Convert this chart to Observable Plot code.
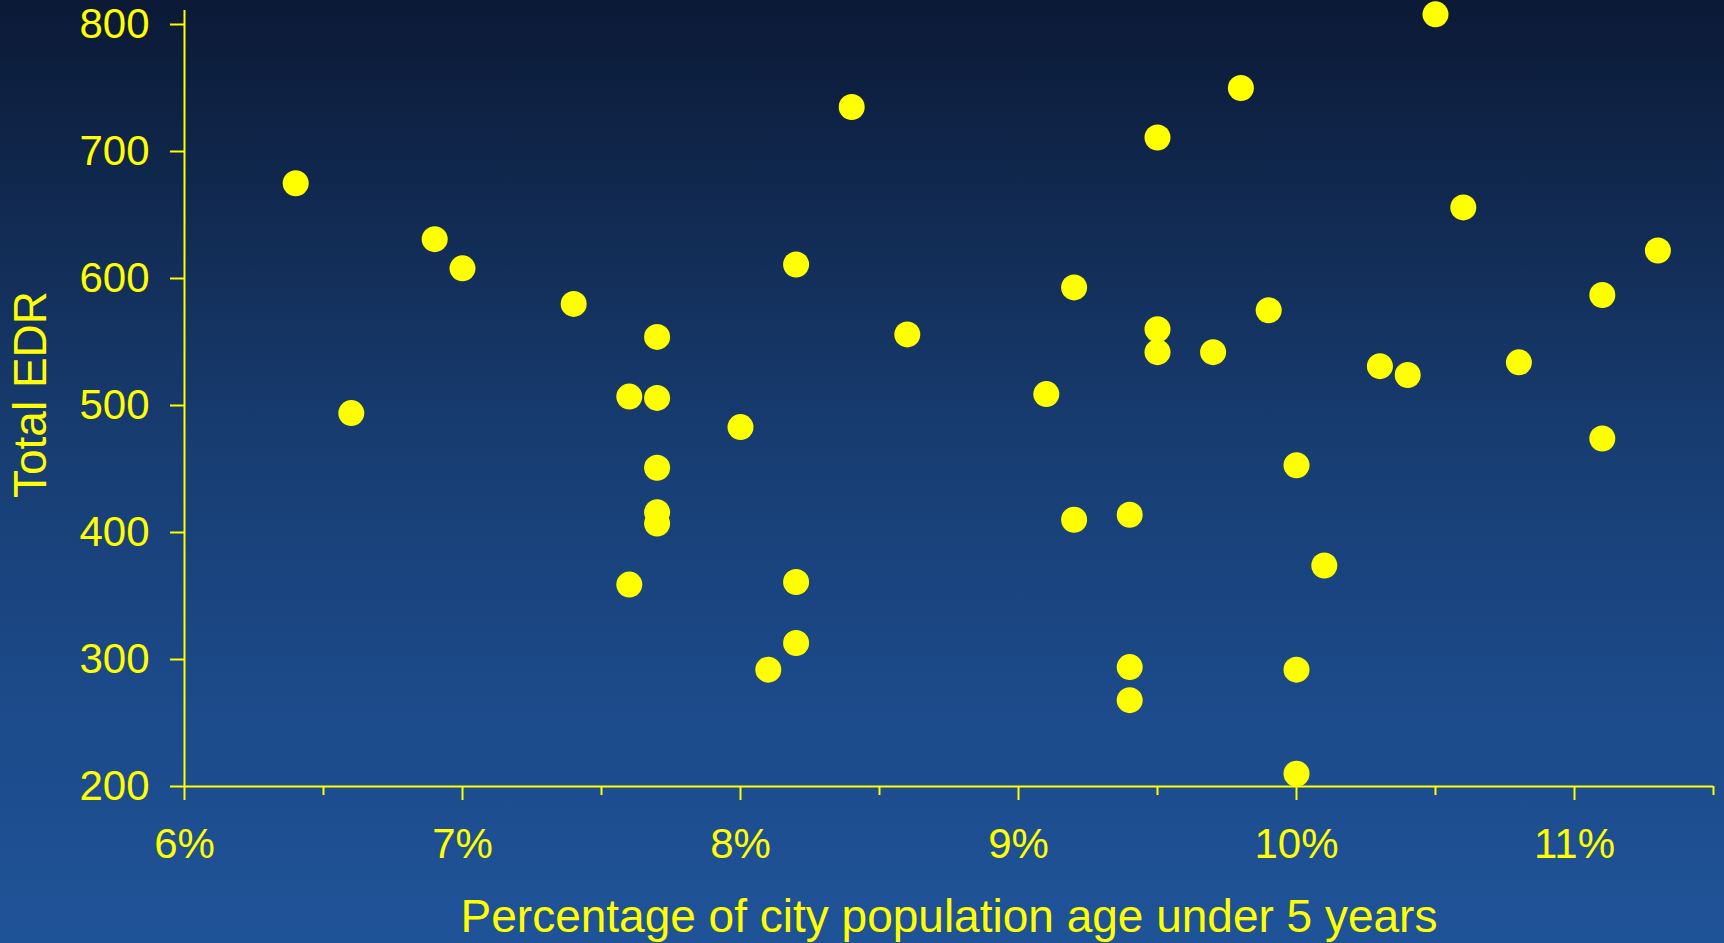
<!DOCTYPE html>
<html>
<head>
<meta charset="utf-8">
<script src="https://cdn.jsdelivr.net/npm/d3@7"></script>
<script src="https://cdn.jsdelivr.net/npm/@observablehq/plot@0.6"></script>
<style>
  html, body { margin: 0; padding: 0; background: #0c1a35; }
  #chart svg { display: block; }
</style>
</head>
<body>
<div id="chart"></div>
<script>
// Percentage of city population under 5 (in %)
const pctUnder5 = [6.4, 6.6, 6.9, 7.0, 7.4, 7.6, 7.6, 7.7, 7.7, 7.7, 7.7, 7.7, 8.0, 8.1, 8.2, 8.2, 8.2, 8.4, 8.6,
  9.1, 9.2, 9.2, 9.4, 9.4, 9.4, 9.5, 9.5, 9.5, 9.7, 9.8, 9.9, 10.0, 10.0, 10.0, 10.1, 10.3, 10.4, 10.5, 10.6, 10.8, 11.1, 11.1, 11.3];
// Total EDR
const totalEDR = [675, 494, 631, 608, 580, 507, 359, 554, 506, 451, 416, 407, 483, 292, 611, 361, 313, 735, 556,
  509, 593, 410, 414, 294, 268, 711, 560, 542, 542, 750, 575, 453, 292, 210, 374, 531, 524, 808, 656, 534, 587, 474, 622];
const xTicks = [6, 7, 8, 9, 10, 11];
const xMinorTicks = [6.5, 7.5, 8.5, 9.5, 10.5, 11.5];
const yTicks = [200, 300, 400, 500, 600, 700, 800];
const xLabel = "Percentage of city population age under 5 years";
const yLabel = "Total EDR";

const data = pctUnder5.map((x, i) => ({x, y: totalEDR[i]}));
const yellow = "#ffff00";

const chart = Plot.plot({
  width: 1724,
  height: 943,
  marginLeft: 184,
  marginRight: 11,
  marginTop: 24,
  marginBottom: 157,
  style: {
    background: "linear-gradient(to bottom, #0b1935 0%, #122c55 25%, #183f75 50%, #1c4a8a 75%, #1f5398 100%)",
    fontFamily: "'Liberation Sans', Arial, sans-serif",
    color: yellow,
    overflow: "visible"
  },
  x: {type: "linear", domain: [6, 11.5]},
  y: {type: "linear", domain: [200, 800]},
  marks: [
    // y axis line (extends slightly above 800)
    Plot.ruleX([6], {y1: 200, y2: 811, stroke: yellow, strokeWidth: 2, clip: false}),
    // x axis line
    Plot.ruleY([200], {x1: 6, x2: 11.5, stroke: yellow, strokeWidth: 2}),
    Plot.axisX({
      ticks: xTicks, tickFormat: d => d + "%", tickSize: 14, tickPadding: 28,
      stroke: yellow, fill: yellow, strokeWidth: 2, fontSize: 42, label: null
    }),
    Plot.axisX({
      ticks: xMinorTicks, tickFormat: () => "", tickSize: 9,
      stroke: yellow, strokeWidth: 2, label: null
    }),
    Plot.axisY({
      ticks: yTicks, tickSize: 14, tickPadding: 21, tickFormat: d => String(d),
      stroke: yellow, fill: yellow, strokeWidth: 2, fontSize: 42, label: null
    }),
    Plot.dot(data, {x: "x", y: "y", r: 13, fill: yellow, stroke: null}),
    // axis titles
    Plot.text([xLabel], {frameAnchor: "bottom", dy: 145, fontSize: 46, fill: yellow, lineAnchor: "bottom", clip: false}),
    Plot.text([yLabel], {frameAnchor: "left", textAnchor: "middle", dx: -153, dy: -11, rotate: -90, fontSize: 46, fill: yellow, lineAnchor: "middle", clip: false})
  ]
});
document.getElementById("chart").appendChild(chart);
</script>
</body>
</html>
